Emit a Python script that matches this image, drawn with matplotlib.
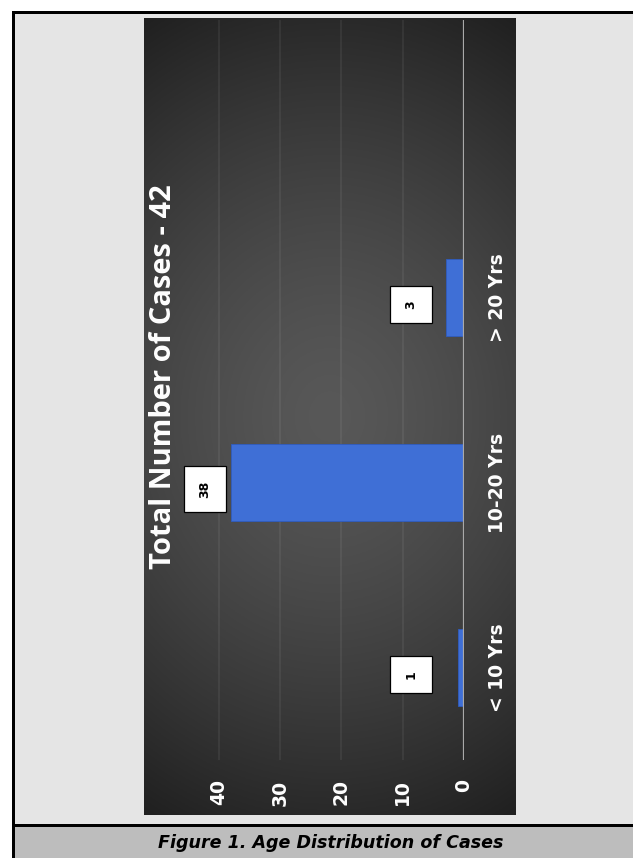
import numpy as np
import matplotlib
matplotlib.use("Agg")
import matplotlib.pyplot as plt
from matplotlib.patches import Rectangle

# ---- data ----
categories = ["< 10 Yrs", "10-20 Yrs", "> 20 Yrs"]
values = [1, 38, 3]
value_ticks = [0, 10, 20, 30, 40]
title = "Total Number of Cases - 42"
caption = "Figure 1. Age Distribution of Cases"

W, H = 633, 858
fig = plt.figure(figsize=(W / 100, H / 100), dpi=100)
fig.patch.set_facecolor("white")


def fx(px):
    return px / W


def fy(py):
    return 1 - py / H


# outer frame (pixel coordinates, drawn as filled rectangles)
frame = fig.add_axes([0, 0, 1, 1])
frame.set_xlim(0, W)
frame.set_ylim(H, 0)
frame.axis("off")
frame.add_patch(Rectangle((12, 12), W - 12, 814, facecolor="#e5e5e5", edgecolor="none"))
frame.add_patch(Rectangle((12, 826), W - 12, H - 826, facecolor="#bdbdbd", edgecolor="none"))
frame.add_patch(Rectangle((12, 11), 2.5, H - 11, facecolor="black", edgecolor="none"))
frame.add_patch(Rectangle((12, 11), W - 12, 2.5, facecolor="black", edgecolor="none"))
frame.add_patch(Rectangle((12, 824), W - 12, 2.8, facecolor="black", edgecolor="none"))
frame.text(331, 843, caption, ha="center", va="center", fontsize=12.6,
           fontweight="bold", fontstyle="italic", family="DejaVu Sans", color="black")

# dark chart panel with radial gradient
pl, pt, pr, pb = 144, 18, 516, 815
bg = fig.add_axes([fx(pl), fy(pb), fx(pr - pl), (pb - pt) / H])
yy, xx = np.mgrid[-1:1:400j, -1:1:200j]
r = np.sqrt((xx * 0.55) ** 2 + (yy * 1.0) ** 2) / np.sqrt(1 + 0.55 ** 2)
grad = 0.345 - 0.22 * r ** 1.4
bg.imshow(np.dstack([grad, grad, grad]), aspect="auto", extent=(0, 1, 0, 1))
bg.axis("off")

# main plot axes (rotated chart: values increase leftwards)
al, ar, at, ab = 188, 464, 20, 760
ax = fig.add_axes([fx(al), fy(ab), fx(ar - al), (ab - at) / H])
ax.patch.set_alpha(0)
pos = np.arange(len(categories))
ax.barh(pos, values, height=0.42, color="#3f6fd6", edgecolor="#2f5cc0", lw=0.6, zorder=3)
ax.set_xlim(45, 0)
ax.set_ylim(-0.5, 3.5)
for s in ax.spines.values():
    s.set_visible(False)
for t in value_ticks[1:]:
    ax.axvline(t, color="white", alpha=0.07, lw=1.2, zorder=1)
ax.axvline(0, color="#a9a9a9", lw=1.6, zorder=4)

ax.set_xticks(value_ticks)
ax.set_xticklabels([str(v) for v in value_ticks])
ax.tick_params(axis="x", length=0, pad=14, labelsize=13.5, labelcolor="white", labelrotation=90)
for lab in ax.get_xticklabels():
    lab.set_fontweight("bold")
    lab.set_family("DejaVu Sans")

ax.yaxis.tick_right()
ax.set_yticks(pos)
ax.set_yticklabels(categories)
ax.tick_params(axis="y", length=0, pad=17, labelsize=13.5, labelcolor="white", labelrotation=90)
for lab in ax.get_yticklabels():
    lab.set_fontweight("bold")
    lab.set_family("DejaVu Sans")
    lab.set_va("center")

# data labels in white boxes
label_x = np.maximum(np.array(values) + 4.2, 8.7)
for i, (v, lx) in enumerate(zip(values, label_x)):
    ax.annotate(str(v), xy=(lx, i), xytext=(0, -5), textcoords="offset points",
                rotation=90, ha="center", va="center", fontsize=9, fontweight="bold",
                color="black", zorder=6,
                bbox=dict(boxstyle="square,pad=1.15", fc="white", ec="black", lw=0.9))

# title (rotated)
fig.text(fx(164), fy(377), title, rotation=90, ha="center", va="center",
         fontsize=21, fontweight="bold", family="Open Sans", color="white")

# overlay to keep the right edge clean (no border on the right side)
cover = fig.add_axes([0, 0, 1, 1], zorder=10)
cover.set_xlim(0, W)
cover.set_ylim(H, 0)
cover.axis("off")
cover.patch.set_alpha(0)
cover.add_patch(Rectangle((600, 13.5), W - 600 + 2, 824 - 13.5, facecolor="#e5e5e5", edgecolor="none"))
cover.add_patch(Rectangle((600, 826.8), W - 600 + 2, H - 826.8 + 2, facecolor="#bdbdbd", edgecolor="none"))

fig.savefig("out.png", dpi=100)
